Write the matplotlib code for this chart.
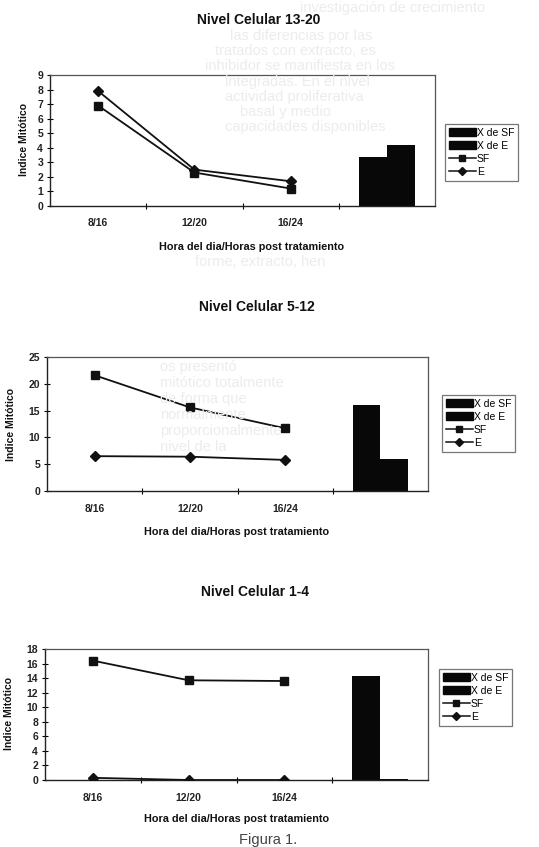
import numpy as np
import matplotlib.pyplot as plt
from matplotlib.patches import Patch
from matplotlib.lines import Line2D

plt.rcParams['font.family'] = ['Liberation Sans', 'DejaVu Sans']

# datos
categorias = ['8/16', '12/20', '16/24']
titulos = ['Nivel Celular 13-20', 'Nivel Celular 5-12', 'Nivel Celular 1-4']
nombres_barras = ['X de SF', 'X de E']

sf_13_20 = [6.9, 2.3, 1.2]
e_13_20 = [7.9, 2.5, 1.7]
media_13_20 = [3.4, 4.2]

sf_5_12 = [21.6, 15.6, 11.7]
e_5_12 = [6.5, 6.4, 5.8]
media_5_12 = [16.1, 6.0]

sf_1_4 = [16.4, 13.7, 13.6]
e_1_4 = [0.3, 0.0, 0.0]
media_1_4 = [14.3, 0.1]

y_max = [9, 25, 18]
y_paso = [1, 5, 2]

# texto del reverso de la hoja (apenas se ve a traves del papel)
texto_fondo = [
    (300, 8, 'investigación de crecimiento'),
    (230, 36, 'las diferencias por las'),
    (215, 51, 'tratados con extracto, es'),
    (205, 66, 'inhibidor se manifiesta en los'),
    (225, 82, 'integradas. En el nivel'),
    (225, 97, 'actividad proliferativa'),
    (240, 112, 'basal y medio'),
    (225, 127, 'capacidades disponibles'),
    (195, 262, 'forme, extracto, hen'),
    (160, 367, 'os presentó'),
    (160, 383, 'mitótico totalmente'),
    (160, 399, 'de forma que'),
    (160, 415, 'normalmente'),
    (160, 431, 'proporcionalmente'),
    (160, 447, 'nivel de la'),
]

W, H = 539, 847
fig = plt.figure(figsize=(W / 100, H / 100), dpi=100)

for x, y, t in texto_fondo:
    fig.text(x / W, 1 - y / H, t, fontsize=10.5, color='#ececec', va='center', ha='left', zorder=0)

# posiciones en pixeles: izquierda, arriba, derecha, abajo
cajas = [(50, 75, 435, 206), (47, 357, 428, 491), (45, 649, 428, 780)]
pos_titulo = [(259, 20), (257, 307), (255, 592)]
pos_xlabel = [(252, 247), (237, 532), (237, 819)]
pos_ylabel = [(24, 140), (11, 424), (9, 713)]
pos_leyenda = [(445, 124), (442, 395), (439, 669)]

series_sf = [sf_13_20, sf_5_12, sf_1_4]
series_e = [e_13_20, e_5_12, e_1_4]
medias = [media_13_20, media_5_12, media_1_4]

x = np.arange(len(categorias))

for i in range(3):
    l, t, r, b = cajas[i]
    ax = fig.add_axes([l / W, 1 - b / H, (r - l) / W, (b - t) / H])
    ax.patch.set_alpha(0)

    ax.bar([3 - 0.145, 3 + 0.145], medias[i], width=0.29, color='#080808', zorder=2)
    ax.plot(x, series_sf[i], color='#111111', lw=1.3, marker='s', ms=5.5, zorder=3)
    ax.plot(x, series_e[i], color='#111111', lw=1.3, marker='D', ms=4.8, zorder=3)

    ax.set_xlim(-0.5, 3.5)
    ax.set_ylim(0, y_max[i])
    ax.set_yticks(np.arange(0, y_max[i] + 1, y_paso[i]))
    ax.set_xticks(x)
    ax.set_xticklabels(categorias)
    ax.set_xticks([0.5, 1.5, 2.5], minor=True)
    ax.tick_params(axis='x', which='major', length=0, pad=9, labelsize=7.5)
    ax.tick_params(axis='x', which='minor', length=4, direction='inout', width=0.8)
    ax.tick_params(axis='y', length=4, direction='inout', width=0.8, labelsize=7.5, pad=3)
    for lab in ax.get_xticklabels() + ax.get_yticklabels():
        lab.set_fontweight('bold')
        lab.set_color('#222222')

    for lado in ['left', 'bottom']:
        ax.spines[lado].set_color('#222222')
        ax.spines[lado].set_linewidth(1.0)
    for lado in ['top', 'right']:
        ax.spines[lado].set_color('#555555')
        ax.spines[lado].set_linewidth(0.9)

    tx, ty = pos_titulo[i]
    fig.text(tx / W, 1 - ty / H, titulos[i], fontsize=10, fontweight='bold',
             ha='center', va='center', color='#111111')
    lx, ly = pos_xlabel[i]
    fig.text(lx / W, 1 - ly / H, 'Hora del dia/Horas post tratamiento', fontsize=7.8,
             fontweight='bold', ha='center', va='center', color='#111111')
    yx, yy = pos_ylabel[i]
    fig.text(yx / W, 1 - yy / H, 'Indice Mitótico', fontsize=7.5, fontweight='bold',
             rotation=90, ha='center', va='center', color='#111111')

    manejadores = [
        Patch(facecolor='#080808', edgecolor='#080808'),
        Patch(facecolor='#080808', edgecolor='#080808'),
        Line2D([], [], color='#111111', lw=1.1, marker='s', ms=4.5),
        Line2D([], [], color='#111111', lw=1.1, marker='D', ms=4),
    ]
    px, py = pos_leyenda[i]
    leg = ax.legend(manejadores, nombres_barras + ['SF', 'E'], loc='upper left',
                    bbox_to_anchor=(px / W, 1 - py / H), bbox_transform=fig.transFigure,
                    fontsize=7.5, frameon=True, fancybox=False, edgecolor='#555555',
                    handlelength=2.6, handleheight=0.8, handletextpad=0.1,
                    labelspacing=0.3, borderpad=0.35, borderaxespad=0)
    leg.get_frame().set_linewidth(0.9)

fig.text(268 / W, 1 - 840 / H, 'Figura 1.', fontsize=10.5, ha='center', va='center', color='#444444')

fig.savefig('out.png', dpi=100)
